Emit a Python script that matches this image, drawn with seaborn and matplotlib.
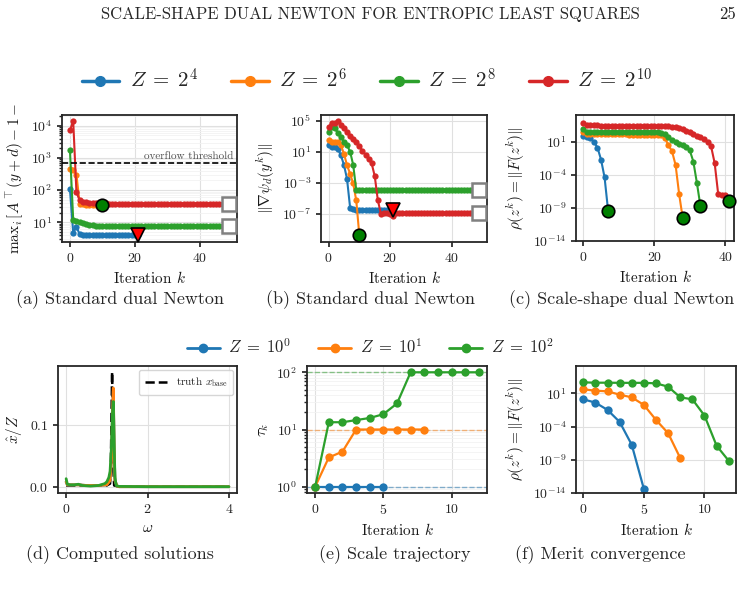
import numpy as np
import pandas as pd
import matplotlib
matplotlib.use("Agg")
import matplotlib.pyplot as plt
import seaborn as sns
from matplotlib.lines import Line2D
from matplotlib.ticker import NullLocator, FixedLocator

# ---------------- data ----------------
colors = ["#1f77b4", "#ff7f0e", "#2ca02c", "#d62728"]
labels_top = [r"$Z\;=\;2^{4}$", r"$Z\;=\;2^{6}$", r"$Z\;=\;2^{8}$", r"$Z\;=\;2^{10}$"]
labels_bot = [r"$Z\;=\;10^{0}$", r"$Z\;=\;10^{1}$", r"$Z\;=\;10^{2}$"]

# (a) max_i [A^T(y+d) - 1 - ...]
a_blue = [105, 4.8, 7.3, 4.2, 4.1, 4.0, 4.0, 4.0, 4.0, 4.0,
          4.0, 4.0, 4.0, 4.0, 4.0, 4.0, 4.0, 4.0, 4.0, 4.0,
          4.0, 4.0]
a_orange = [440, 420, 300, 38, 36, 35, 34.5, 34, 33.5, 33.5, 33.5]
a_green = [1700, 12.0, 11.2, 10.5, 9.8, 9.1, 8.5, 8.0, 7.8, 7.7,
           7.6, 7.6, 7.55, 7.5, 7.5, 7.5, 7.5, 7.5, 7.5, 7.5,
           7.5, 7.5, 7.5, 7.5, 7.5, 7.5, 7.5, 7.5, 7.5, 7.5,
           7.5, 7.5, 7.5, 7.5, 7.5, 7.5, 7.5, 7.5, 7.5, 7.5,
           7.5, 7.5, 7.5, 7.5, 7.5, 7.5, 7.5, 7.5, 7.5, 7.5]
a_red = [7200, 14000, 85, 48, 44, 42, 41, 40, 39.5, 39,
         38.5, 38.5, 38, 38, 38, 37.5, 37.5, 37.5, 37.5, 37.5,
         37.5, 37.5, 37.5, 37.5, 37.5, 37.5, 37.5, 37.5, 37.5, 37.5,
         37.5, 37.5, 37.5, 37.5, 37.5, 37.5, 37.5, 37.5, 37.5, 37.5,
         37.5, 37.5, 37.5, 37.5, 37.5, 37.5, 37.5, 37.5, 37.5, 37.5]
overflow = 709.78

# (b) ||grad psi_d(y^k)||
b_blue = [65, 40, 40, 25, 3.4, 0.2, 3e-3, 6e-7, 3.5e-7, 3.3e-7,
          3.2e-7, 3.2e-7, 3.2e-7, 3.2e-7, 3.2e-7, 3.2e-7, 3.2e-7, 3.2e-7, 3.2e-7, 3.2e-7,
          3.2e-7, 3.2e-7]
b_orange = [300, 200, 200, 180, 68, 5.5, 0.18, 0.014, 8e-4, 5e-6, 1.6e-10]
b_green = [3000, 15000, 12000, 2500, 700, 200, 70, 10, 0.2, 1.1e-4,
           1.05e-4, 1.05e-4, 1.05e-4, 1.05e-4, 1.05e-4, 1.05e-4, 1.05e-4, 1.05e-4, 1.05e-4, 1.05e-4,
           1.05e-4, 1.05e-4, 1.05e-4, 1.05e-4, 1.05e-4, 1.05e-4, 1.05e-4, 1.05e-4, 1.05e-4, 1.05e-4,
           1.05e-4, 1.05e-4, 1.05e-4, 1.05e-4, 1.05e-4, 1.05e-4, 1.05e-4, 1.05e-4, 1.05e-4, 1.05e-4,
           1.05e-4, 1.05e-4, 1.05e-4, 1.05e-4, 1.05e-4, 1.05e-4, 1.05e-4, 1.05e-4, 1.05e-4, 1.05e-4]
b_red = [15000, 50000, 50000, 100000, 30000, 10000, 3500, 1200, 500, 160,
         50, 13, 4, 1.3, 0.3, 7e-3, 5.6e-6, 1.0e-7, 1.2e-7, 1.1e-7,
         1.0e-7, 5e-8, 1.2e-7, 1.1e-7, 1.1e-7, 1.1e-7, 1.1e-7, 1.1e-7, 1.1e-7, 1.1e-7,
         1.1e-7, 1.1e-7, 1.1e-7, 1.1e-7, 1.1e-7, 1.1e-7, 1.1e-7, 1.1e-7, 1.1e-7, 1.1e-7,
         1.1e-7, 1.1e-7, 1.1e-7, 1.1e-7, 1.1e-7, 1.1e-7, 1.1e-7, 1.1e-7, 1.1e-7, 1.1e-7]

# (c) scale-shape merit
c_blue = [72, 45, 32, 10, 1.3, 0.02, 4e-5, 3.5e-10]
c_orange = [290, 140, 135, 132, 130, 130, 128, 128, 127, 126,
            126, 125, 125, 124, 124, 123, 123, 122, 122, 121,
            120, 115, 95, 35, 3.0, 0.35, 3e-3, 1.2e-7, 3e-11]
c_green = [740, 330, 320, 315, 310, 305, 300, 300, 295, 295,
           290, 290, 290, 285, 285, 285, 280, 280, 280, 275,
           270, 260, 230, 130, 45, 18, 9, 5, 3, 1.5,
           0.5, 0.01, 6e-6, 1.8e-9]
c_red = [6000, 3000, 2900, 2900, 2850, 2800, 2800, 2750, 2750, 2700,
         2700, 2650, 2650, 2600, 2600, 2550, 2550, 2500, 2500, 2450,
         2400, 2400, 2350, 2300, 2200, 2000, 1700, 1300, 800, 500,
         300, 160, 80, 50, 25, 10, 2, 6e-3, 1.2e-7, 1.0e-7,
         8e-8, 1.0e-8]

# (d) computed solutions
w_truth = [0.0, 1.0, 1.08, 1.10, 1.12, 1.13, 1.14, 1.16, 1.18, 1.3, 4.0]
x_truth = [0.002, 0.002, 0.005, 0.04, 0.14, 0.186, 0.14, 0.03, 0.002, 0.0, 0.0]
w_blue = [0.0, 0.03, 0.1, 0.3, 0.5, 0.8, 1.0, 1.08, 1.12, 1.14, 1.16, 1.18, 1.2, 1.25, 1.3, 2.0, 4.0]
x_blue = [0.008, 0.003, 0.003, 0.003, 0.002, 0.002, 0.003, 0.01, 0.05, 0.115, 0.155, 0.06, 0.01, 0.001, 0.0, 0.0, 0.0]
w_orange = [0.0, 0.03, 0.1, 0.3, 0.5, 0.8, 1.0, 1.08, 1.12, 1.14, 1.16, 1.18, 1.2, 1.25, 1.3, 2.0, 4.0]
x_orange = [0.008, 0.003, 0.003, 0.003, 0.002, 0.002, 0.003, 0.01, 0.05, 0.12, 0.16, 0.06, 0.01, 0.001, 0.0, 0.0, 0.0]
w_green = [0.0, 0.03, 0.1, 0.2, 0.3, 0.4, 0.6, 0.8, 0.95, 1.0, 1.05, 1.08, 1.11, 1.14, 1.16, 1.18, 1.2, 1.23, 1.3, 2.0, 4.0]
x_green = [0.013, 0.004, 0.003, 0.003, 0.004, 0.002, 0.001, 0.002, 0.005, 0.008, 0.015, 0.025, 0.06, 0.12, 0.138, 0.07, 0.015, 0.002, 0.0005, 0.0, 0.0]

# (e) scale trajectory tau_k
e_blue = [1, 1, 1, 1, 1, 1]
e_orange = [1, 3.25, 4.1, 10, 10, 10, 10, 10, 10]
e_green = [1, 13.4, 13.4, 14.6, 15.9, 18.5, 28.5, 100, 100, 100, 100, 100, 100]
e_targets = [1, 10, 100]

# (f) merit convergence
f_blue = [1.26, 0.4, 0.032, 5e-4, 1.8e-7, 4e-14]
f_orange = [40, 25, 20, 6.3, 2.5, 0.18, 1e-3, 1e-5, 1.8e-9]
f_green = [450, 400, 400, 380, 380, 380, 320, 100, 2.5, 1.26, 4.5e-3, 1.3e-7, 7e-10]

captions_top = ["(a) Standard dual Newton", "(b) Standard dual Newton", "(c) Scale-shape dual Newton"]
captions_bot = ["(d) Computed solutions", "(e) Scale trajectory", "(f) Merit convergence"]

# ---------------- style ----------------
sns.set_theme(style="whitegrid")
plt.rcParams.update({
    "font.family": ["cmr10"],
    "mathtext.fontset": "cm",
    "axes.formatter.use_mathtext": True,
    "axes.edgecolor": "0.15",
    "axes.linewidth": 1.3,
    "grid.color": "0.88",
    "grid.linewidth": 0.8,
    "xtick.bottom": True,
    "ytick.left": True,
    "xtick.major.size": 3.5,
    "ytick.major.size": 3.5,
    "xtick.minor.size": 2.0,
    "ytick.minor.size": 2.0,
    "xtick.color": "0.15",
    "ytick.color": "0.15",
    "xtick.labelsize": 10,
    "ytick.labelsize": 10,
    "axes.labelsize": 11,
    "axes.labelcolor": "0.1",
})

W, H = 745, 610
fig = plt.figure(figsize=(W / 100, H / 100), dpi=100)


def add_ax(l, t, r, b):
    return fig.add_axes([l / W, 1 - b / H, (r - l) / W, (b - t) / H])


def series(ax, y, color, ms=4.5, lw=1.5, z=2):
    k = np.arange(len(y))
    sns.lineplot(x=k, y=y, ax=ax, color=color, marker="o", markersize=ms,
                 markeredgewidth=0, linewidth=lw, estimator=None, sort=False,
                 zorder=z, legend=False)


def conv(ax, y):
    ax.plot([len(y) - 1], [y[-1]], marker="o", ms=9, mfc="green", mec="black",
            mew=1.2, ls="none", zorder=10, clip_on=False)


def stag(ax, y):
    ax.plot([len(y) - 1], [y[-1]], marker="v", ms=10, mfc="red", mec="black",
            mew=1.2, ls="none", zorder=10, clip_on=False)


def maxit(ax, y):
    ax.plot([len(y) - 1], [y[-1]], marker="s", ms=10, mfc="white", mec="0.5",
            mew=1.8, ls="none", zorder=10, clip_on=False)


def finish(ax, xticks):
    ax.set_xticks(xticks)
    ax.set_xlabel(r"Iteration $k$")
    for s in ax.spines.values():
        s.set_color("0.15")
        s.set_linewidth(1.3)


# (a)
ax = add_ax(62, 115, 237, 242)
ax.set_yscale("log")
for y, c in zip([a_blue, a_orange, a_green, a_red], colors):
    series(ax, y, c)
ax.axhline(overflow, color="black", ls="--", lw=1.2, zorder=3)
ax.text(0.98, overflow * 1.12, "overflow threshold", transform=ax.get_yaxis_transform(),
        ha="right", va="bottom", fontsize=8, color="0.3")
conv(ax, a_orange)
stag(ax, a_blue)
maxit(ax, a_green)
maxit(ax, a_red)
ax.set_xlim(-2.45, 51.45)
ax.set_ylim(2.45, 2.15e4)
ax.grid(True, which="minor", axis="y", color="0.95", lw=0.6)
ax.set_ylabel(r"$\mathrm{max}_i\,[A^{\top}(y+d)-\mathbf{1}-$", labelpad=3)
finish(ax, [0, 20, 40])

# (b)
ax = add_ax(321, 115, 487, 242)
ax.set_yscale("log")
for y, c in zip([b_blue, b_orange, b_green, b_red], colors):
    series(ax, y, c)
conv(ax, b_orange)
stag(ax, b_blue)
maxit(ax, b_green)
maxit(ax, b_red)
ax.set_xlim(-2.45, 51.45)
ax.set_ylim(2.2e-11, 5.4e5)
ax.yaxis.set_major_locator(FixedLocator([1e5, 1e1, 1e-3, 1e-7]))
ax.yaxis.set_minor_locator(NullLocator())
ax.set_ylabel(r"$\|\nabla\psi_d(y^k)\|$")
finish(ax, [0, 20, 40])

# (c)
ax = add_ax(576, 115, 734, 241)
ax.set_yscale("log")
for y, c in zip([c_blue, c_orange, c_green, c_red], colors):
    series(ax, y, c)
for y in [c_blue, c_orange, c_green, c_red]:
    conv(ax, y)
ax.set_xlim(-2.05, 42.45)
ax.set_ylim(1e-14, 1.1e5)
ax.yaxis.set_major_locator(FixedLocator([1e1, 1e-4, 1e-9, 1e-14]))
ax.yaxis.set_minor_locator(NullLocator())
ax.set_ylabel(r"$\rho(z^k) = \|F(z^k)\|$")
finish(ax, [0, 20, 40])

# (d)
ax = add_ax(58, 366, 237, 493)
sns.lineplot(x=w_truth, y=x_truth, ax=ax, color="black", ls="--", lw=1.8,
             estimator=None, sort=False, zorder=1, label=r"truth $x_{\mathrm{base}}$")
for w, x, c in zip([w_blue, w_orange, w_green], [x_blue, x_orange, x_green], colors):
    sns.lineplot(x=w, y=x, ax=ax, color=c, lw=2.0, estimator=None, sort=False,
                 zorder=2, legend=False)
ax.set_xlim(-0.2, 4.2)
ax.set_ylim(-0.0102, 0.1956)
ax.set_xticks([0, 2, 4])
ax.set_yticks([0.0, 0.1])
ax.set_xlabel(r"$\omega$")
ax.set_ylabel(r"$\hat{x}/Z$")
leg = ax.legend(loc="upper right", fontsize=8, handlelength=2.0, frameon=True,
                borderpad=0.5, borderaxespad=0.35)
leg.get_frame().set_edgecolor("0.8")
for s in ax.spines.values():
    s.set_color("0.15")
    s.set_linewidth(1.3)

# (e)
ax = add_ax(307, 366, 487, 493)
ax.set_yscale("log")
for t, c in zip(e_targets, colors):
    ax.axhline(t, color=c, ls="--", lw=1.0, alpha=0.5, zorder=1)
for y, c in zip([e_blue, e_orange, e_green], colors):
    series(ax, y, c, ms=6, lw=1.6)
ax.set_xlim(-0.6, 12.6)
ax.set_ylim(10 ** -0.11, 10 ** 2.11)
ax.grid(True, which="minor", axis="y", color="0.95", lw=0.6)
ax.set_ylabel(r"$\tau_k$")
finish(ax, [0, 5, 10])

# (f)
ax = add_ax(576, 366, 736, 493)
ax.set_yscale("log")
for y, c in zip([f_blue, f_orange, f_green], colors):
    series(ax, y, c, ms=6, lw=1.6)
ax.set_xlim(-0.6, 12.6)
ax.set_ylim(1e-14, 1.3e5)
ax.yaxis.set_major_locator(FixedLocator([1e1, 1e-4, 1e-9, 1e-14]))
ax.yaxis.set_minor_locator(NullLocator())
ax.set_ylabel(r"$\rho(z^k) = \|F(z^k)\|$")
finish(ax, [0, 5, 10])

# legends
h1 = [Line2D([], [], color=c, marker="o", ms=7, lw=2.5) for c in colors]
fig.legend(h1, labels_top, loc="center", bbox_to_anchor=(367 / W, 1 - 80 / H), ncol=4,
           frameon=False, fontsize=15, handlelength=1.8, handletextpad=0.5,
           columnspacing=1.6)
h2 = [Line2D([], [], color=c, marker="o", ms=6, lw=2.0) for c in colors[:3]]
fig.legend(h2, labels_bot, loc="center", bbox_to_anchor=(370 / W, 1 - 347 / H), ncol=3,
           frameon=False, fontsize=12, handlelength=2.0, handletextpad=0.5,
           columnspacing=1.6)

# captions and header
for cx, txt in zip([120, 370, 622], captions_top):
    fig.text(cx / W, 1 - 300 / H, txt, ha="center", va="center", fontsize=13)
for cx, txt in zip([120, 395, 600], captions_bot):
    fig.text(cx / W, 1 - 555 / H, txt, ha="center", va="center", fontsize=13)
fig.text(370 / W, 1 - 14 / H, "SCALE-SHAPE DUAL NEWTON FOR ENTROPIC LEAST SQUARES",
         ha="center", va="center", fontsize=12)
fig.text(736 / W, 1 - 14 / H, "25", ha="right", va="center", fontsize=12)

fig.savefig("out.png", dpi=100)
